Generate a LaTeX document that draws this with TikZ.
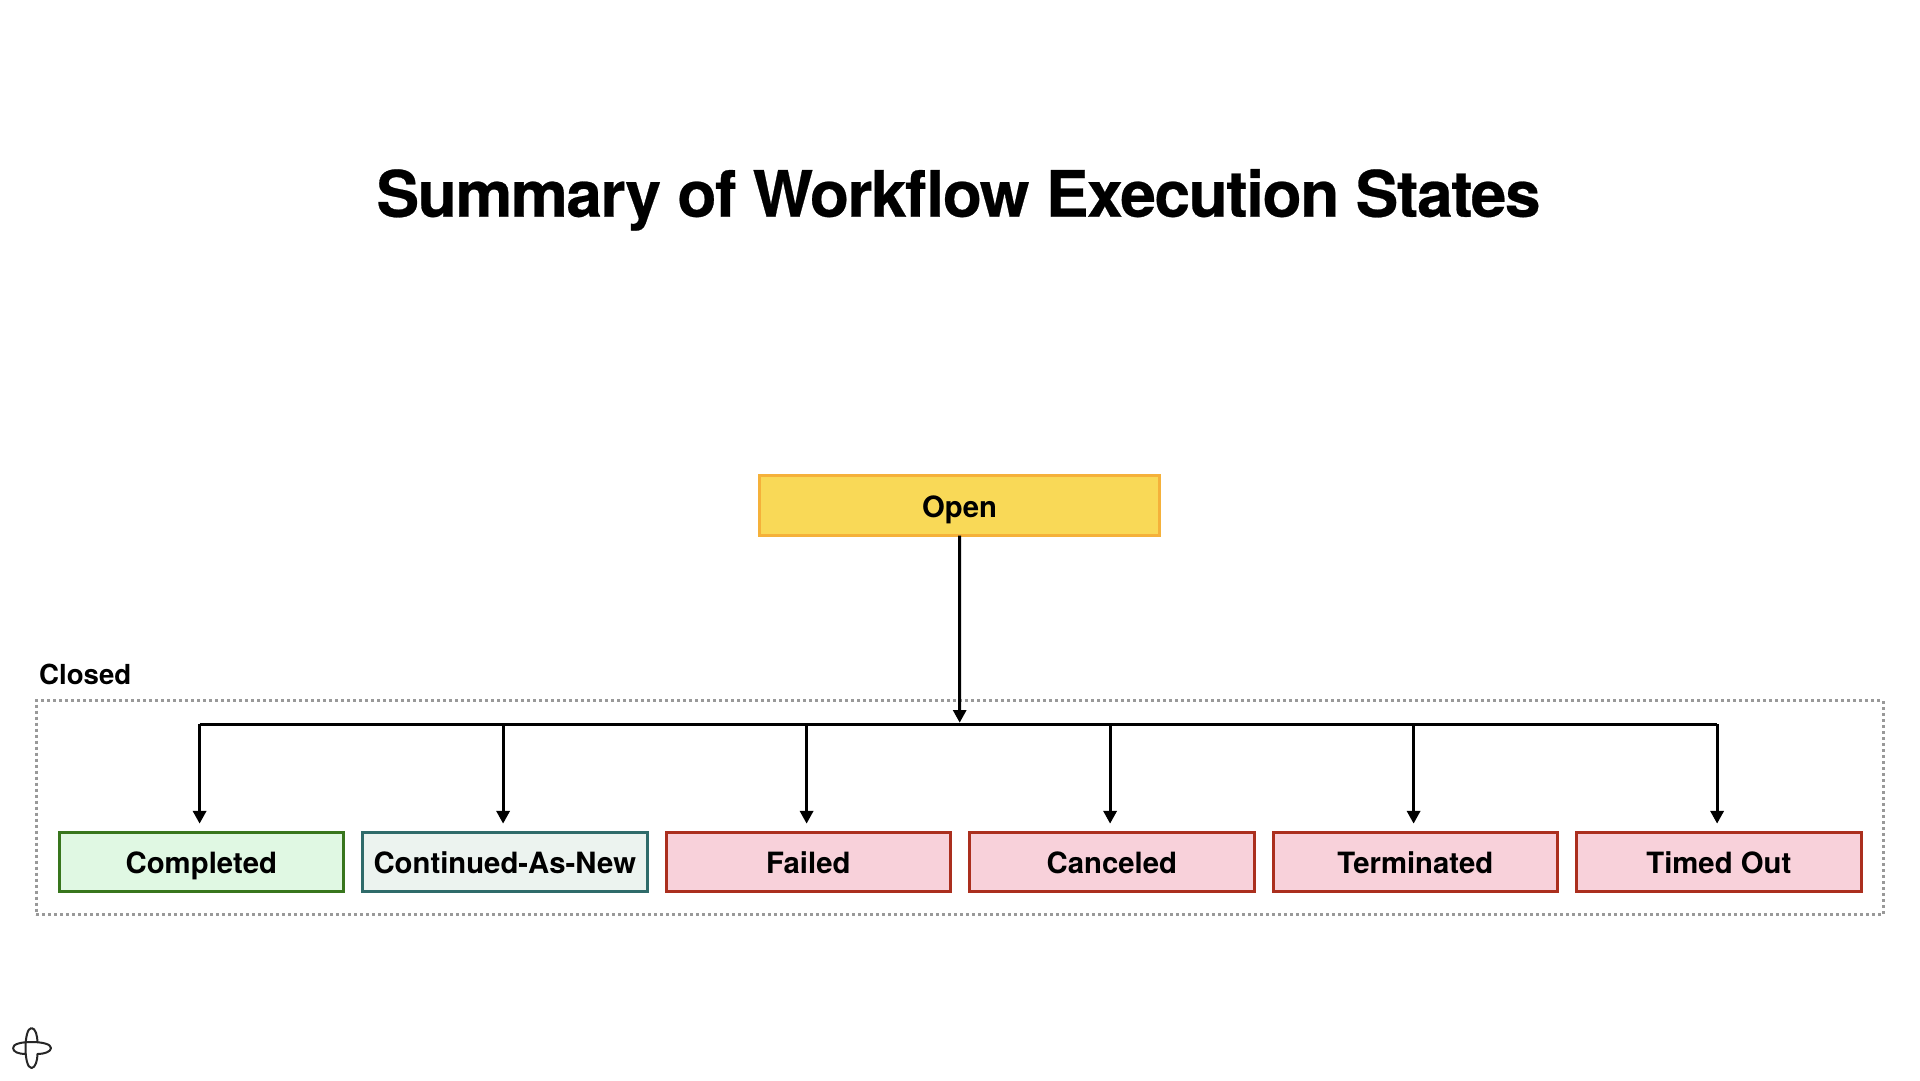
\documentclass[tikz,border=0pt]{standalone}
\usepackage{fontspec}
\setmainfont{TeX Gyre Heros}
\usetikzlibrary{arrows.meta}
\definecolor{openfill}{HTML}{F9D957}
\definecolor{openline}{HTML}{F5B13A}
\definecolor{greenfill}{HTML}{E0F8E3}
\definecolor{greenline}{HTML}{38761D}
\definecolor{tealfill}{HTML}{ECF3EF}
\definecolor{tealline}{HTML}{2F6B6A}
\definecolor{redfill}{HTML}{F8D1DA}
\definecolor{redline}{HTML}{AB2F1E}
\definecolor{dotgray}{HTML}{999999}
\tikzset{
  statebox/.style={draw,line width=3pt,outer sep=0pt,inner sep=0pt,minimum width=284.5pt,minimum height=59.5pt,
    text height=22pt,text depth=0pt,font=\fontsize{29.3}{32}\selectfont\bfseries,text=black},
  okbox/.style={statebox,fill=greenfill,draw=greenline},
  newbox/.style={statebox,fill=tealfill,draw=tealline},
  badbox/.style={statebox,fill=redfill,draw=redline},
  openbox/.style={statebox,fill=openfill,draw=openline,minimum width=400pt,minimum height=60pt,text height=23.5pt},
  conn/.style={draw=black,line width=3pt,-{Triangle[length=12.7pt,width=13pt]}},
  bus/.style={draw=black,line width=3pt,line join=miter},
  group/.style={draw=dotgray,line width=3pt,dash pattern=on 3pt off 3pt},
}
\begin{document}
\begin{tikzpicture}[x=1pt,y=-1pt]
\useasboundingbox (0,0) rectangle (1920,1080);
\fill[white] (0,0) rectangle (1920,1080);
\node[anchor=base,font=\fontsize{64}{70}\selectfont\bfseries\addfontfeature{LetterSpace=-2.25,FakeBold=0.4},inner sep=0pt] (title) at (958.5,216.7) {Summary of Workflow Execution States};
\node[anchor=base west,font=\fontsize{27.6}{30}\selectfont\bfseries,inner sep=0pt] (closed) at (39,684) {Closed};
\node[group,minimum width=1847pt,minimum height=214pt,inner sep=0pt,outer sep=0pt] (closedgroup) at (959.5,807.5) {};
\node[openbox] (open) at (959.5,505.5) {Open};
\node[okbox]  (c1) at (201.3,862.2) {Completed};
\node[newbox] (c2) at (504.8,862.2) {Continued-As-New};
\node[badbox] (c3) at (808.3,862.2) {Failed};
\node[badbox] (c4) at (1111.8,862.2) {Canceled};
\node[badbox] (c5) at (1415.3,862.2) {Terminated};
\node[badbox] (c6) at (1718.8,862.2) {Timed Out};
\coordinate (bar) at (959.7,724.3);
\draw[conn,shorten >=1.6pt] (open.south) -- (bar);
\draw[bus] ([xshift=-1.7pt]c1.north |- bar) -- ([xshift=-1.7pt]c6.north |- bar);
\foreach \c in {c1,c2,c3,c4,c5,c6}{
  \draw[conn,shorten >=8.8pt] ([xshift=-1.7pt]\c.north |- bar) -- ([xshift=-1.7pt]\c.north);
}
% logo
\draw[line width=2pt,draw=black!85,line join=round]
  (31.5,1028) .. controls (35.5,1028) and (37.5,1036) .. (37.5,1042.5)
  (13,1048) .. controls (13,1044) and (21,1042) .. (31.5,1042) .. controls (42,1042) and (51,1044) .. (51,1048)
  .. controls (51,1052) and (43.5,1054) .. (37.5,1054) .. controls (37.5,1060) and (35.5,1068) .. (31.5,1068)
  .. controls (27.5,1068) and (25.5,1058) .. (25.5,1048) .. controls (25.5,1038) and (27.5,1028) .. (31.5,1028)
  (13,1048) .. controls (13,1052) and (19,1054) .. (25.5,1054);
\end{tikzpicture}
\end{document}
